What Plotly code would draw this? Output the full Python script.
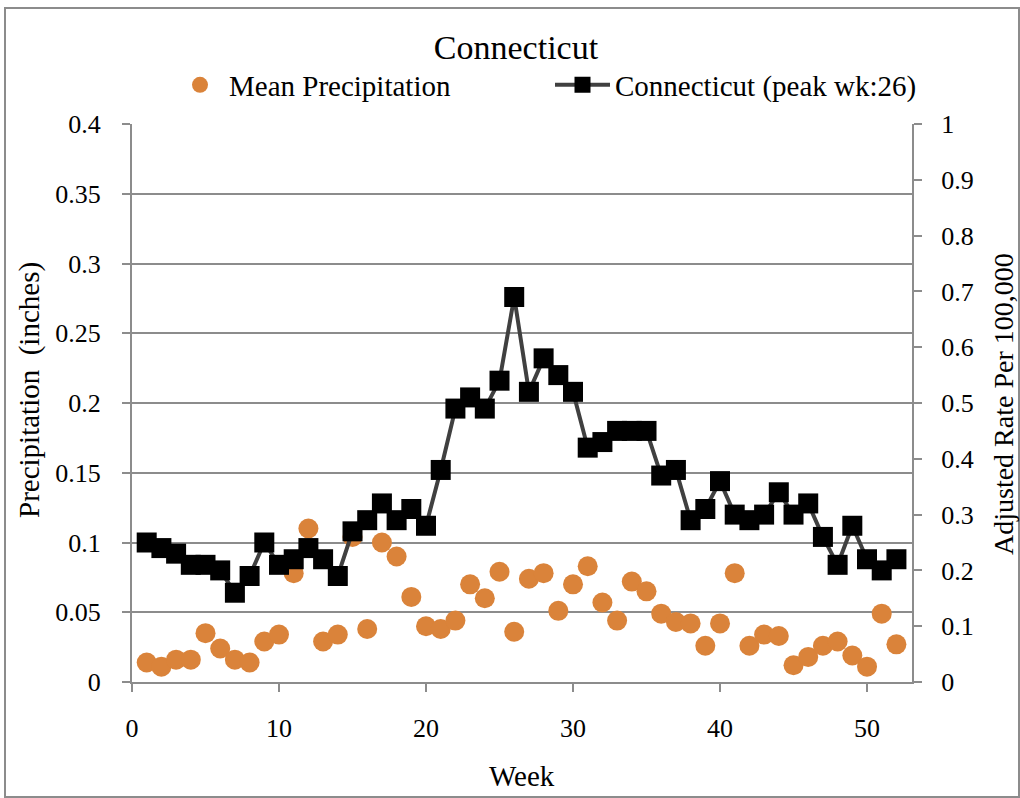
import plotly.graph_objects as go

# Weekly series
weeks = list(range(1, 53))

mean_precip = [
    0.014, 0.011, 0.016, 0.016, 0.035, 0.024, 0.016, 0.014, 0.029, 0.034,
    0.078, 0.110, 0.029, 0.034, 0.104, 0.038, 0.100, 0.090, 0.061, 0.040,
    0.038, 0.044, 0.070, 0.060, 0.079, 0.036, 0.074, 0.078, 0.051, 0.070,
    0.083, 0.057, 0.044, 0.072, 0.065, 0.049, 0.043, 0.042, 0.026, 0.042,
    0.078, 0.026, 0.034, 0.033, 0.012, 0.018, 0.026, 0.029, 0.019, 0.011,
    0.049, 0.027,
]

rate = [
    0.25, 0.24, 0.23, 0.21, 0.21, 0.20, 0.16, 0.19, 0.25, 0.21,
    0.22, 0.24, 0.22, 0.19, 0.27, 0.29, 0.32, 0.29, 0.31, 0.28,
    0.38, 0.49, 0.51, 0.49, 0.54, 0.69, 0.52, 0.58, 0.55, 0.52,
    0.42, 0.43, 0.45, 0.45, 0.45, 0.37, 0.38, 0.29, 0.31, 0.36,
    0.30, 0.29, 0.30, 0.34, 0.30, 0.32, 0.26, 0.21, 0.28, 0.22,
    0.20, 0.22,
]

x_ticks = [0, 10, 20, 30, 40, 50]
y_left_ticks = [0, 0.05, 0.1, 0.15, 0.2, 0.25, 0.3, 0.35, 0.4]
y_left_labels = ["0", "0.05", "0.1", "0.15", "0.2", "0.25", "0.3", "0.35", "0.4"]
y_right_ticks = [0, 0.1, 0.2, 0.3, 0.4, 0.5, 0.6, 0.7, 0.8, 0.9, 1]
y_right_labels = ["0", "0.1", "0.2", "0.3", "0.4", "0.5", "0.6", "0.7", "0.8", "0.9", "1"]

FONT = "Liberation Serif"
ORANGE = "#DA833A"
GRID = "#8C8C8C"

W, H = 1020, 798
L, R, T, B = 132, 108, 124, 116
PW, PH = W - L - R, H - T - B


def px_x(p):
    return (p - L) / PW


def px_y(p):
    return (H - B - p) / PH


fig = go.Figure()

fig.add_trace(go.Scatter(
    x=weeks, y=mean_precip, mode="markers", name="Mean Precipitation",
    marker=dict(color=ORANGE, size=20, line=dict(width=0)),
    yaxis="y", legend="legend", showlegend=True,
))

fig.add_trace(go.Scatter(
    x=weeks, y=rate, mode="lines+markers", name="Connecticut (peak wk:26)",
    line=dict(color="#404040", width=4),
    marker=dict(symbol="square", size=20, color="black", line=dict(width=0)),
    yaxis="y2", legend="legend2", showlegend=True,
))

axis_common = dict(
    showline=True, linecolor=GRID, linewidth=2,
    ticks="outside", ticklen=8, tickwidth=2, tickcolor=GRID,
    zeroline=False,
    tickfont=dict(family=FONT, size=26, color="black"),
)

fig.update_layout(
    width=W, height=H,
    margin=dict(l=L, r=R, t=T, b=B),
    paper_bgcolor="white", plot_bgcolor="white",
    font=dict(family=FONT, color="black"),
    showlegend=True,
    title=dict(
        text="Connecticut", x=516 / W, xref="container", xanchor="center",
        y=1 - 47 / H, yref="container", yanchor="middle",
        font=dict(family=FONT, size=34, color="black"),
    ),
    xaxis=dict(
        range=[0, 53.06], tickvals=x_ticks, showgrid=False,
        ticklabelstandoff=14, **axis_common,
    ),
    yaxis=dict(
        range=[0, 0.4], tickvals=y_left_ticks, ticktext=y_left_labels,
        showgrid=True, gridcolor=GRID, gridwidth=2,
        ticklabelstandoff=16, **axis_common,
    ),
    yaxis2=dict(
        range=[0, 1], tickvals=y_right_ticks, ticktext=y_right_labels,
        overlaying="y", side="right", showgrid=False,
        ticklabelstandoff=14, **axis_common,
    ),
    legend=dict(
        x=px_x(171), y=px_y(85), xanchor="left", yanchor="middle",
        orientation="h", itemwidth=48, bgcolor="rgba(0,0,0,0)",
        font=dict(family=FONT, size=29, color="black"),
    ),
    legend2=dict(
        x=px_x(550), y=px_y(85), xanchor="left", yanchor="middle",
        orientation="h", itemwidth=55, bgcolor="rgba(0,0,0,0)",
        font=dict(family=FONT, size=29, color="black"),
    ),
    annotations=[
        dict(text="Week", x=0.5, y=px_y(776), xref="paper", yref="paper",
             xanchor="center", yanchor="middle", showarrow=False,
             font=dict(family=FONT, size=29, color="black")),
        dict(text="Precipitation\u00a0\u00a0(inches)", x=px_x(30), y=px_y(390),
             xref="paper", yref="paper", textangle=-90,
             xanchor="center", yanchor="middle", showarrow=False,
             font=dict(family=FONT, size=29, color="black")),
        dict(text="Adjusted Rate Per 100,000", x=px_x(1003), y=px_y(404),
             xref="paper", yref="paper", textangle=-90,
             xanchor="center", yanchor="middle", showarrow=False,
             font=dict(family=FONT, size=28, color="black")),
    ],
    shapes=[
        dict(type="rect", xref="paper", yref="paper",
             x0=px_x(5), x1=px_x(1019), y0=px_y(797), y1=px_y(8),
             line=dict(color=GRID, width=2), fillcolor="rgba(0,0,0,0)",
             layer="below"),
    ],
)

fig.write_html("out.html")
